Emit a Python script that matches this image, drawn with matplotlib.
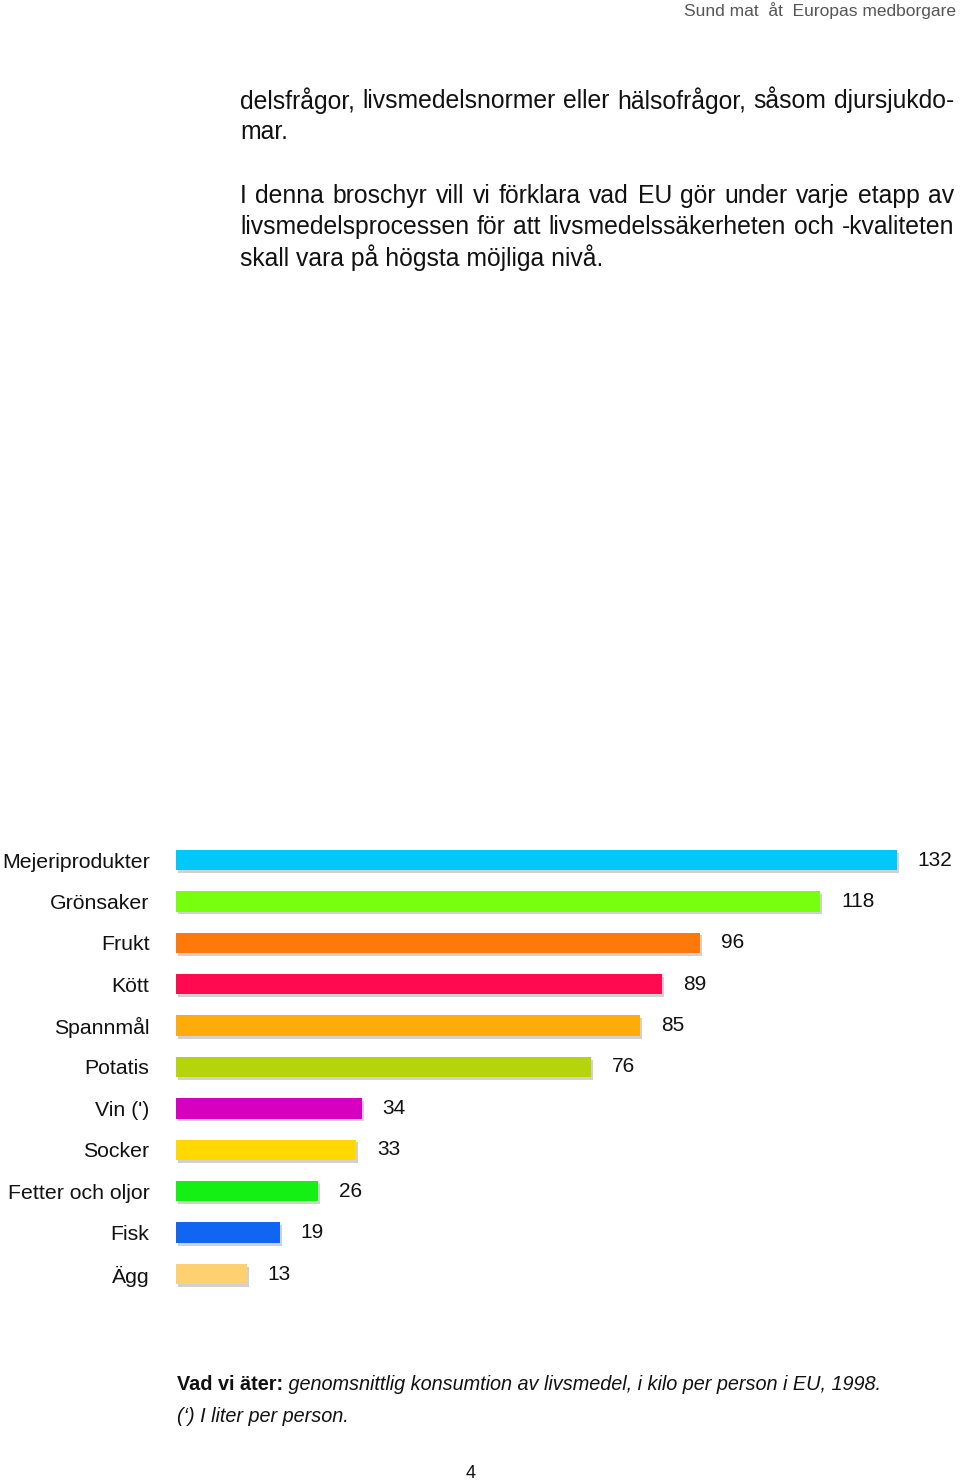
import matplotlib
matplotlib.use("Agg")
import matplotlib.pyplot as plt
import matplotlib.patheffects as pe
from matplotlib import font_manager

# Food consumption per person in the EU, 1998
categories = ["Mejeriprodukter", "Grönsaker", "Frukt", "Kött", "Spannmål", "Potatis",
              "Vin (')", "Socker", "Fetter och oljor", "Fisk", "Ägg"]
values = [132, 118, 96, 89, 85, 76, 34, 33, 26, 19, 13]
colors = ["#00C8F8", "#78FF10", "#FF780A", "#FF0A50", "#FFAC0A", "#B6D40C",
          "#D800C0", "#FFD800", "#14F014", "#1066F0", "#FFD070"]

header = "Sund mat  åt  Europas medborgare"
body_lines = [
    "delsfrågor, livsmedelsnormer eller hälsofrågor, såsom djursjukdo-",
    "mar.",
    "",
    "I denna broschyr vill vi förklara vad EU gör under varje etapp av",
    "livsmedelsprocessen för att livsmedelssäkerheten och -kvaliteten",
    "skall vara på högsta möjliga nivå.",
]
justified = [True, False, False, True, True, False]
caption_bold = "Vad vi äter:"
caption_italic = " genomsnittlig konsumtion av livsmedel, i kilo per person i EU, 1998."
footnote = "(‘) I liter per person."
page_number = "4"

names = {f.name for f in font_manager.fontManager.ttflist}
family = ["Liberation Sans Narrow", "Liberation Sans", "DejaVu Sans"]
family = [f for f in family if f in names] or ["DejaVu Sans"]
plt.rcParams["font.family"] = family

W, H = 960, 1484
fig = plt.figure(figsize=(W / 100, H / 100), dpi=100)
fig.canvas.draw()
renderer = fig.canvas.get_renderer()


def fx(px):
    return px / W


def fy(py):
    return 1 - py / H


def text_width(s, size, **kw):
    t = fig.text(0, 0, s, fontsize=size, **kw)
    w = t.get_window_extent(renderer).width
    t.remove()
    return w


def fit_size(s, target_px, ref_size=20, **kw):
    return ref_size * target_px / text_width(s, ref_size, **kw)


# Running header
hs = fit_size(header, 270)
fig.text(fx(956), fy(11), header, ha="right", va="center", fontsize=hs, color="#555555")

# Body text, justified between x=240 and x=954
body_left, body_right = 240, 954
bs = fit_size(body_lines[0], body_right - body_left)
line_y = [101, 132, 164, 196, 227, 258]
for txt, y, just in zip(body_lines, line_y, justified):
    if not txt:
        continue
    if not just:
        fig.text(fx(body_left), fy(y), txt, ha="left", va="center", fontsize=bs, color="#111111")
        continue
    words = txt.split(" ")
    widths = [text_width(w_, bs) for w_ in words]
    gap = (body_right - body_left - sum(widths)) / (len(words) - 1)
    x = body_left
    for w_, wd in zip(words, widths):
        fig.text(fx(x), fy(y), w_, ha="left", va="center", fontsize=bs, color="#111111")
        x += wd + gap

# Bar chart
px_per_unit = 5.46
left_px, top_px, step = 176, 860, 41.4
n = len(categories)
ax_top = top_px - step / 2
ax_bottom = top_px + step * (n - 1) + step / 2
ax = fig.add_axes([fx(left_px), fy(ax_bottom), fx(W - left_px), (ax_bottom - ax_top) / H])
ax.set_xlim(0, (W - left_px) / px_per_unit)
ax.set_ylim(n - 0.5, -0.5)

ypos = list(range(n))
bars = ax.barh(ypos, values, height=0.49, color=colors, edgecolor="none")
for b in bars:
    b.set_path_effects([pe.SimplePatchShadow(offset=(1.5, -2), shadow_rgbFace="#999999", alpha=0.45),
                        pe.Normal()])

for y, v in zip(ypos, values):
    ax.annotate(str(v), xy=(v, y), xytext=(15, 0), textcoords="offset points",
                ha="left", va="center", fontsize=15, color="#111111")

ls = fit_size(categories[0], 147)
ax.set_yticks(ypos)
ax.set_yticklabels(categories, fontsize=ls, color="#111111")
ax.tick_params(axis="y", length=0, pad=19)
ax.set_xticks([])
for s in ax.spines.values():
    s.set_visible(False)
ax.patch.set_alpha(0)

# Caption
cs = 14.3
t = fig.text(fx(177), fy(1385), caption_bold, ha="left", va="center", fontsize=cs,
             fontweight="bold", color="#111111")
bb = t.get_window_extent(renderer)
fig.text(bb.x1 / W, fy(1385), caption_italic, ha="left", va="center", fontsize=cs,
         fontstyle="italic", color="#111111")
fig.text(fx(177), fy(1416), footnote, ha="left", va="center", fontsize=cs,
         fontstyle="italic", color="#111111")

fig.text(fx(471), fy(1474), page_number, ha="center", va="center", fontsize=13, color="#111111")

fig.savefig("out.png", dpi=100, facecolor="white")
